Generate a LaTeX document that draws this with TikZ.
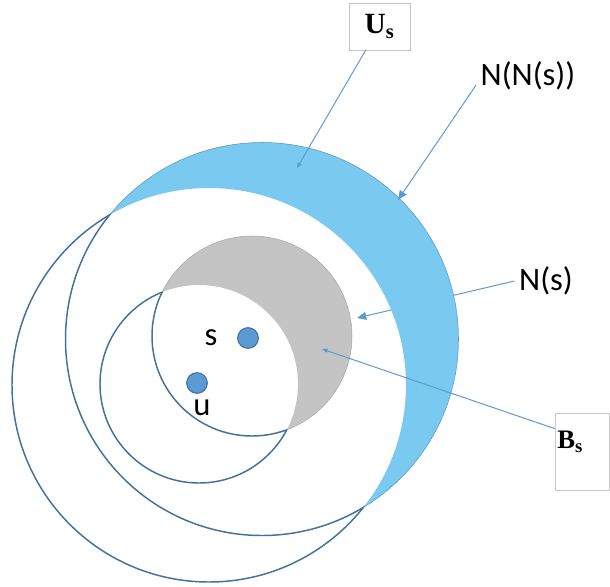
\documentclass[tikz,border=0pt]{standalone}
\usepackage{fontspec}
\setmainfont{Carlito}
\newfontfamily\timesfont{Liberation Serif}
\usetikzlibrary{arrows.meta}

\definecolor{ringline}{RGB}{65,113,156}
\definecolor{leader}{RGB}{91,155,213}
\definecolor{nnsfill}{RGB}{122,201,240}
\definecolor{bsfill}{RGB}{196,196,196}

\begin{document}
\begin{tikzpicture}[
    x=0.75pt,y=-0.75pt,
    every node/.style={font=\fontsize{24.5}{29}\selectfont},
    ring/.style={draw=ringline,line width=1.1pt},
    pin/.style={draw=leader,line width=0.75pt},
    bigtip/.style={-{Triangle[length=7pt,width=6pt]}},
    smalltip/.style={-{Triangle[length=4pt,width=3pt]}},
    tag/.style={draw=black!22,fill=white,inner sep=0pt},
    dot/.style={circle,draw=ringline,fill=leader,line width=0.8pt,minimum size=15.5pt,inner sep=0pt}
  ]
  \useasboundingbox (0,0) rectangle (610,586);

  % centres of the four rings
  \coordinate (cA) at (209,385);
  \coordinate (cB) at (262,339);
  \coordinate (cu) at (199,384);
  \coordinate (cs) at (252,336);

  % labels
  \node (nns) at (528,76) {N(N(s))};
  \node (ns)  at (546,281) {N(s)};
  \node[tag,minimum width=46pt,minimum height=35pt] (us) at (379.5,26.5)
    {\timesfont\bfseries\fontsize{22}{26}\selectfont U\textsubscript{s}};
  \node[tag,minimum width=40.5pt,minimum height=57.75pt] (bs) at (582,451.5) {};
  \node[anchor=base west,inner sep=0pt] (bstext) at (557,448)
    {\timesfont\bfseries\fontsize{20}{24}\selectfont B\textsubscript{s}};

  \coordinate (tipU)  at (297,168);
  \coordinate (tipNN) at (398,200);
  \coordinate (tipN)  at (357,318);
  \coordinate (tipB)  at (322,349);

  % runs under the blue band
  \draw[pin,bigtip] (ns.west) -- (tipN);

  % gray crescent B_s
  \begin{scope}
    \clip (cs) circle (100);
    \fill[bsfill,even odd rule] (cs) circle (100) (cu) circle (99);
  \end{scope}
  \begin{scope}[even odd rule]
    \clip (0,0) rectangle (610,586) (cu) circle (99);
    \draw[black!35,line width=0.4pt] (cs) circle (100);
  \end{scope}

  % blue crescent U_s
  \begin{scope}
    \clip (cB) circle (196.5);
    \fill[nnsfill,even odd rule] (cB) circle (196.5) (cA) circle (197);
  \end{scope}
  \begin{scope}[even odd rule]
    \clip (0,0) rectangle (610,586) (cA) circle (197);
    \draw[nnsfill!75!black,line width=0.4pt] (cB) circle (196.5);
  \end{scope}

  % rings
  \begin{scope}[even odd rule]
    \clip (0,0) rectangle (610,586) (cB) circle (196.5);
    \draw[ring] (cA) circle (197);
  \end{scope}
  \begin{scope}
    \clip (cA) circle (197);
    \draw[ring] (cB) circle (196.5);
  \end{scope}
  \begin{scope}[even odd rule]
    \clip (0,0) rectangle (610,586) (cs) circle (100);
    \draw[ring] (cu) circle (99);
  \end{scope}
  \begin{scope}
    \clip (cu) circle (99);
    \draw[ring] (cs) circle (100);
  \end{scope}

  % vertices
  \node[dot] (sdot) at (248,338) {};
  \node[dot] (udot) at (197,383) {};
  \node (slabel) at (211,338) {s};
  \node (ulabel) at (202,408) {u};

  \draw[pin,smalltip] (us) -- (tipU);
  \draw[pin,bigtip] (nns.190) -- (tipNN);
  \draw[pin,smalltip] (bs.140) -- (tipB);
\end{tikzpicture}
\end{document}
